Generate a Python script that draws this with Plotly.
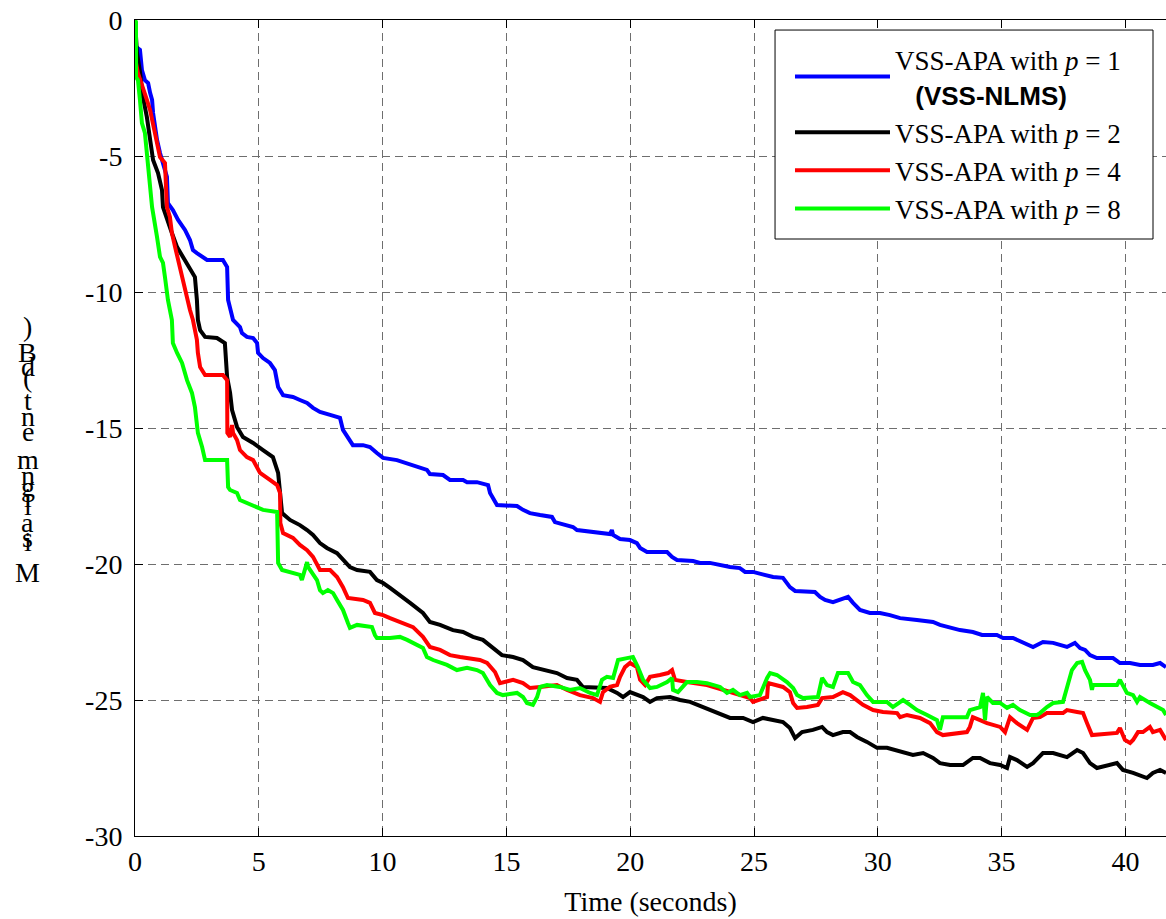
import plotly.graph_objects as go

# ---------------- data (time in seconds, misalignment in dB) ----------------
blue_t = [0, 0.04, 0.20, 0.28, 0.40, 0.53, 0.61, 0.69, 0.73, 0.81,
          0.89, 1.01, 1.13, 1.29, 1.33, 1.53, 1.74, 2.02, 2.22, 2.34,
          2.50, 2.91, 3.55, 3.72, 3.76, 3.84, 3.96, 4.24, 4.32, 4.52,
          4.77, 4.93, 4.97, 5.17, 5.45, 5.65, 5.74, 5.78, 5.98, 6.38,
          6.66, 6.95, 7.19, 7.47, 7.88, 8.28, 8.40, 8.68, 8.80, 9.21,
          9.49, 9.77, 10.02, 10.58, 10.99, 11.39, 11.79, 11.91, 12.44, 12.72,
          13.25, 13.41, 13.81, 14.26, 14.34, 14.62, 15.43, 15.67, 15.95, 16.36,
          16.84, 16.96, 17.29, 17.69, 17.85, 18.26, 18.66, 18.90, 19.18, 19.26,
          19.31, 19.59, 19.99, 20.27, 20.40, 20.68, 21.49, 21.69, 21.89, 22.54,
          22.82, 23.22, 23.63, 24.03, 24.43, 24.64, 24.96, 25.36, 25.77, 26.17,
          26.45, 26.66, 27.46, 27.67, 27.87, 28.19, 28.47, 28.80, 29.00, 29.28,
          29.68, 30.09, 30.49, 30.90, 31.58, 32.23, 32.51, 32.92, 33.32, 33.84,
          34.21, 34.81, 35.06, 35.46, 35.86, 36.27, 36.67, 37.08, 37.64, 37.96,
          38.17, 38.37, 38.57, 38.85, 39.50, 39.78, 40.19, 40.59, 41.11, 41.40,
          41.64]
blue_db = [0, -0.99, -1.10, -1.84, -2.21, -2.32, -2.68, -2.94, -3.42, -3.93,
           -4.41, -4.89, -5.26, -5.77, -6.73, -6.99, -7.35, -7.72, -8.09, -8.46,
           -8.57, -8.82, -8.82, -9.08, -10.29, -10.66, -11.03, -11.29, -11.51, -11.65,
           -11.69, -11.88, -12.24, -12.43, -12.61, -12.87, -13.24, -13.49, -13.79, -13.86,
           -13.97, -14.08, -14.26, -14.41, -14.52, -14.63, -15.07, -15.44, -15.63, -15.63,
           -15.70, -15.92, -16.10, -16.18, -16.29, -16.43, -16.54, -16.69, -16.73, -16.91,
           -16.91, -16.99, -16.99, -17.10, -17.39, -17.83, -17.87, -18.01, -18.13, -18.20,
           -18.27, -18.46, -18.53, -18.64, -18.75, -18.79, -18.82, -18.86, -18.90, -18.75,
           -18.93, -19.08, -19.12, -19.23, -19.41, -19.56, -19.56, -19.74, -19.85, -19.89,
           -19.96, -19.96, -20.04, -20.11, -20.15, -20.29, -20.29, -20.40, -20.48, -20.51,
           -20.85, -20.99, -21.03, -21.21, -21.32, -21.40, -21.32, -21.21, -21.43, -21.69,
           -21.80, -21.80, -21.88, -21.99, -22.06, -22.13, -22.24, -22.35, -22.43, -22.50,
           -22.61, -22.61, -22.72, -22.72, -22.90, -23.05, -22.87, -22.90, -23.05, -22.90,
           -23.09, -23.16, -23.35, -23.46, -23.46, -23.64, -23.64, -23.71, -23.71, -23.64,
           -23.79]

black_t = [0, 0.08, 0.20, 0.32, 0.48, 0.61, 0.73, 0.93, 1.09, 1.13,
           1.29, 1.49, 1.70, 1.94, 2.22, 2.42, 2.50, 2.54, 2.63, 2.83,
           3.31, 3.63, 3.72, 3.84, 3.92, 4.12, 4.36, 4.77, 5.17, 5.57,
           5.78, 5.86, 5.94, 6.26, 6.66, 6.95, 7.19, 7.47, 7.75, 8.16,
           8.40, 8.68, 8.97, 9.49, 9.77, 10.02, 10.30, 10.70, 11.11, 11.63,
           11.91, 12.32, 12.84, 13.25, 13.65, 14.05, 14.46, 14.82, 15.27, 15.67,
           16.07, 16.64, 17.04, 17.45, 17.85, 18.09, 18.66, 19.06, 19.47, 19.71,
           19.99, 20.52, 20.80, 21.08, 21.61, 22.01, 22.42, 22.94, 23.51, 24.03,
           24.56, 24.96, 25.36, 25.93, 26.17, 26.45, 26.66, 26.94, 27.38, 27.75,
           27.95, 28.19, 28.59, 28.88, 29.16, 29.56, 29.97, 30.37, 30.90, 31.42,
           31.83, 32.23, 32.51, 32.92, 33.44, 33.84, 34.13, 34.53, 34.94, 35.22,
           35.34, 35.62, 36.03, 36.27, 36.67, 37.08, 37.64, 38.05, 38.29, 38.57,
           38.85, 39.26, 39.66, 39.90, 40.31, 40.87, 41.11, 41.40, 41.64]
black_db = [0, -1.20, -1.90, -2.83, -3.57, -4.41, -5.15, -5.63, -6.25, -6.88,
            -7.35, -7.83, -8.35, -8.71, -9.08, -9.45, -10.29, -11.03, -11.40, -11.65,
            -11.69, -11.88, -13.13, -13.71, -14.34, -14.96, -15.33, -15.55, -15.81, -16.07,
            -16.65, -17.39, -18.13, -18.38, -18.57, -18.75, -18.93, -19.23, -19.41, -19.60,
            -19.85, -20.11, -20.22, -20.29, -20.59, -20.70, -20.88, -21.14, -21.43, -21.80,
            -22.13, -22.24, -22.43, -22.50, -22.68, -22.79, -23.09, -23.35, -23.42, -23.53,
            -23.79, -23.90, -24.01, -24.19, -24.26, -24.52, -24.56, -24.56, -24.74, -24.89,
            -24.71, -24.89, -25.07, -24.93, -24.89, -25.00, -25.07, -25.26, -25.44, -25.66,
            -25.66, -25.81, -25.66, -25.74, -25.81, -26.03, -26.40, -26.18, -26.10, -25.99,
            -26.18, -26.29, -26.18, -26.18, -26.36, -26.54, -26.76, -26.76, -26.91, -27.02,
            -26.95, -27.13, -27.32, -27.39, -27.39, -27.13, -27.13, -27.32, -27.39, -27.50,
            -27.10, -27.21, -27.46, -27.32, -26.95, -26.95, -27.10, -26.84, -26.95, -27.32,
            -27.50, -27.39, -27.32, -27.57, -27.68, -27.87, -27.68, -27.57, -27.68]

red_t = [0, 0.04, 0.12, 0.32, 0.48, 0.61, 0.73, 0.89, 1.01, 1.21,
         1.29, 1.41, 1.49, 1.62, 1.74, 1.90, 2.02, 2.10, 2.22, 2.34,
         2.50, 2.54, 2.63, 2.83, 3.55, 3.72, 3.73, 3.84, 3.92, 3.96,
         4.12, 4.24, 4.52, 4.77, 5.05, 5.45, 5.74, 5.86, 5.87, 5.98,
         6.38, 6.66, 6.95, 7.19, 7.47, 7.88, 8.16, 8.40, 8.60, 9.21,
         9.49, 9.69, 10.02, 10.30, 10.70, 11.23, 11.63, 11.91, 12.32, 12.72,
         13.13, 13.53, 13.93, 14.22, 14.54, 14.74, 15.27, 15.67, 15.95, 16.36,
         17.04, 17.45, 17.97, 18.50, 18.78, 18.90, 19.18, 19.47, 19.59, 19.79,
         19.99, 20.27, 20.40, 20.60, 20.80, 21.20, 21.53, 21.69, 21.81, 22.29,
         22.70, 23.10, 23.51, 24.03, 24.43, 24.84, 24.96, 25.24, 25.53, 25.57,
         25.93, 26.17, 26.45, 26.58, 26.74, 27.14, 27.58, 27.75, 28.19, 28.59,
         28.88, 29.16, 29.40, 29.81, 30.21, 30.78, 30.90, 31.18, 31.70, 32.11,
         32.39, 32.63, 33.60, 33.72, 33.84, 34.13, 34.41, 34.94, 35.14, 35.34,
         35.62, 36.03, 36.27, 36.55, 36.83, 37.48, 37.64, 38.05, 38.29, 38.45,
         38.65, 39.66, 39.78, 39.98, 40.19, 40.31, 40.51, 40.71, 40.99, 41.11,
         41.40, 41.64]
red_db = [0, -1.58, -1.95, -2.46, -2.94, -3.31, -3.79, -4.41, -5.04, -5.26,
          -6.88, -7.24, -7.83, -8.35, -8.82, -9.45, -9.82, -10.29, -10.66, -11.03,
          -11.76, -12.24, -12.76, -13.05, -13.05, -13.24, -15.18, -15.33, -14.89, -15.18,
          -15.44, -15.81, -16.07, -16.18, -16.65, -16.91, -17.10, -17.39, -18.49, -18.86,
          -19.04, -19.30, -19.49, -19.74, -20.22, -20.22, -20.48, -20.85, -21.25, -21.32,
          -21.43, -21.80, -21.88, -21.99, -22.13, -22.32, -22.68, -23.05, -23.16, -23.35,
          -23.42, -23.46, -23.53, -23.64, -23.97, -24.38, -24.26, -24.38, -24.56, -24.52,
          -24.45, -24.63, -24.82, -24.93, -25.07, -24.71, -24.52, -24.45, -24.15, -23.79,
          -23.64, -23.79, -24.26, -24.45, -24.15, -24.08, -24.01, -23.90, -24.26, -24.34,
          -24.38, -24.45, -24.56, -24.71, -24.82, -24.93, -25.07, -25.00, -24.89, -24.38,
          -24.45, -24.52, -24.71, -25.11, -25.29, -25.26, -25.18, -24.93, -24.89, -24.71,
          -24.82, -25.00, -25.18, -25.37, -25.44, -25.48, -25.63, -25.55, -25.66, -25.85,
          -26.18, -26.29, -26.18, -25.99, -25.63, -25.74, -25.85, -25.99, -26.18, -25.63,
          -25.85, -26.10, -25.66, -25.63, -25.48, -25.48, -25.37, -25.44, -25.48, -25.85,
          -26.29, -26.21, -26.03, -26.47, -26.58, -26.47, -26.18, -26.18, -25.99, -26.18,
          -26.10, -26.47]

green_t = [0, 0.04, 0.04, 0.12, 0.20, 0.28, 0.40, 0.48, 0.53, 0.61,
           0.69, 0.73, 0.81, 0.89, 1.01, 1.13, 1.21, 1.29, 1.33, 1.49,
           1.53, 1.70, 1.90, 2.10, 2.30, 2.42, 2.54, 2.71, 2.83, 3.72,
           3.76, 3.84, 4.12, 4.24, 4.93, 5.17, 5.74, 5.78, 5.94, 6.26,
           6.66, 6.74, 6.87, 6.95, 6.99, 7.19, 7.35, 7.47, 7.59, 7.79,
           8.00, 8.16, 8.40, 8.60, 8.68, 8.97, 9.57, 9.69, 9.77, 10.30,
           10.70, 10.99, 11.39, 11.63, 11.79, 12.04, 12.60, 13.00, 13.41, 13.81,
           14.05, 14.34, 14.62, 14.86, 15.43, 15.67, 15.83, 16.07, 16.24, 16.36,
           16.64, 17.16, 17.57, 17.97, 18.38, 18.66, 18.86, 19.06, 19.31, 19.51,
           19.87, 20.11, 20.31, 20.52, 20.80, 21.08, 21.49, 21.69, 21.73, 21.93,
           22.29, 22.70, 23.10, 23.63, 23.91, 24.15, 24.43, 24.72, 24.84, 25.24,
           25.53, 25.65, 25.93, 26.33, 26.58, 26.74, 26.98, 27.58, 27.75, 27.95,
           28.19, 28.39, 28.80, 29.00, 29.28, 29.56, 29.81, 30.37, 30.61, 31.02,
           31.30, 31.58, 31.99, 32.39, 32.51, 32.63, 33.60, 33.72, 34.13, 34.25,
           34.33, 34.41, 34.65, 34.94, 35.22, 35.46, 35.74, 36.15, 36.43, 36.55,
           36.83, 37.08, 37.48, 37.64, 37.84, 38.05, 38.25, 38.37, 38.57, 38.65,
           38.69, 39.66, 39.78, 40.06, 40.31, 40.47, 40.59, 40.99, 41.28, 41.52,
           41.64]
green_db = [0, -0.07, -2.10, -2.21, -2.94, -3.79, -4.15, -4.89, -5.63, -6.14,
            -6.88, -7.10, -7.46, -7.98, -8.71, -8.93, -9.45, -10.04, -10.29, -11.03,
            -11.88, -12.24, -12.61, -13.24, -13.71, -14.23, -15.18, -15.70, -16.18, -16.18,
            -17.17, -17.28, -17.39, -17.65, -17.90, -18.01, -18.09, -19.96, -20.22, -20.29,
            -20.40, -20.59, -20.11, -19.93, -20.11, -20.40, -20.59, -20.96, -21.07, -20.96,
            -21.07, -21.32, -21.69, -22.17, -22.35, -22.24, -22.32, -22.61, -22.72, -22.72,
            -22.68, -22.79, -22.98, -23.09, -23.42, -23.53, -23.71, -23.90, -23.82, -23.90,
            -24.01, -24.45, -24.74, -24.82, -24.74, -24.89, -25.11, -25.18, -24.89, -24.52,
            -24.45, -24.52, -24.63, -24.56, -24.74, -24.82, -24.26, -24.15, -24.19, -23.53,
            -23.46, -23.42, -23.79, -24.26, -24.56, -24.52, -24.34, -24.19, -24.63, -24.71,
            -24.34, -24.34, -24.38, -24.52, -24.74, -24.63, -24.82, -24.74, -24.89, -24.82,
            -24.19, -24.01, -24.08, -24.34, -24.56, -24.82, -24.93, -24.89, -24.19, -24.45,
            -24.52, -24.01, -24.01, -24.34, -24.45, -24.82, -25.07, -25.07, -25.26, -25.00,
            -25.18, -25.37, -25.55, -25.74, -26.10, -25.63, -25.63, -25.37, -25.26, -24.74,
            -25.74, -24.89, -25.11, -25.11, -25.29, -25.18, -25.37, -25.55, -25.55, -25.48,
            -25.26, -25.11, -25.07, -24.52, -23.90, -23.64, -23.60, -23.90, -24.26, -24.63,
            -24.45, -24.45, -24.26, -24.74, -24.82, -25.07, -24.89, -25.11, -25.26, -25.37,
            -25.55]

series_names = [
    "VSS-APA with <i>p</i> = 1<br>\u00a0\u00a0\u00a0<span style='font-family:Arial;font-size:26px'><b>(VSS-NLMS)</b></span>",
    "VSS-APA with <i>p</i> = 2",
    "VSS-APA with <i>p</i> = 4",
    "VSS-APA with <i>p</i> = 8",
]
series_colors = ["#0000FF", "#000000", "#FF0000", "#00FF00"]

x_tick_vals = [0, 5, 10, 15, 20, 25, 30, 35, 40]
x_tick_text = ["0", "5", "10", "15", "20", "25", "30", "35", "40"]
y_tick_vals = [0, -5, -10, -15, -20, -25, -30]
y_tick_text = ["0", "-5", "-10", "-15", "-20", "-25", "-30"]

x_title = "Time (seconds)"
y_title = "Misalignment (dB)"

# ---------------- figure ----------------
series = [(blue_t, blue_db), (black_t, black_db), (red_t, red_db), (green_t, green_db)]
for t, d in series:
    assert len(t) == len(d), (len(t), len(d))

fig = go.Figure()
for (t, d), name, color in zip(series, series_names, series_colors):
    fig.add_trace(go.Scatter(x=t, y=d, mode="lines", name=name,
                             line=dict(color=color, width=4)))

FONT = "Liberation Serif, Times New Roman, serif"
grid_kw = dict(showgrid=True, gridcolor="#6e6e6e", gridwidth=1, griddash="8px,5px",
               zeroline=False, showline=True, linecolor="black", linewidth=1,
               ticks="inside", ticklen=8, tickcolor="black", tickwidth=1,
               tickfont=dict(family=FONT, size=28, color="black"))

fig.update_xaxes(range=[0, 41.64], tickmode="array", tickvals=x_tick_vals,
                 ticktext=x_tick_text, mirror="ticks",
                 title=dict(text=x_title, font=dict(family=FONT, size=28), standoff=15),
                 **grid_kw)
fig.update_yaxes(range=[-30, 0], tickmode="array", tickvals=y_tick_vals,
                 ticktext=y_tick_text, mirror=False, ticklabelstandoff=6, **grid_kw)

# y-axis title, drawn glyph by glyph stacked upward as in the reference
label_chars = list(y_title.replace(" ", ""))
label_pos = [0.3235, 0.3603, 0.3664, 0.3848, 0.4056, 0.4154, 0.4277, 0.4424,
             0.4608, 0.4951, 0.5135, 0.5331, 0.5625, 0.5748, 0.5931, 0.6250]
for ch, yp in zip(label_chars, label_pos):
    fig.add_annotation(text=ch, xref="paper", yref="paper", x=-0.104, y=yp,
                       xanchor="center", yanchor="middle", showarrow=False,
                       font=dict(family=FONT, size=28, color="black"))

# legend frame (white box with black border, covering the curves beneath)
fig.add_shape(type="rect", xref="paper", yref="paper",
              x0=0.6208, x1=0.9874, y0=0.7316, y1=0.9877,
              fillcolor="white", line=dict(color="black", width=1), layer="above")

fig.update_layout(
    width=1166, height=919,
    margin=dict(l=135, r=0, t=20, b=83),
    paper_bgcolor="white", plot_bgcolor="white",
    font=dict(family=FONT, size=27, color="black"),
    showlegend=True,
    legend=dict(x=0.6353, y=0.9816, xanchor="left", yanchor="top",
                bgcolor="rgba(0,0,0,0)", borderwidth=0,
                font=dict(family=FONT, size=27, color="black"),
                itemwidth=95, tracegroupgap=0, traceorder="normal"),
)

fig.write_html("out.html")
